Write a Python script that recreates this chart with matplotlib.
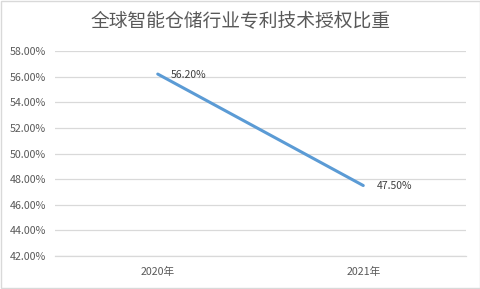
import matplotlib
matplotlib.use("Agg")
import matplotlib.pyplot as plt
from matplotlib.patches import Rectangle

plt.rcParams['font.family'] = ['Noto Sans CJK SC', 'DejaVu Sans']

# Data
title = "全球智能仓储行业专利技术授权比重"
years = ["2020年", "2021年"]
share = [56.20, 47.50]
y_ticks = [42, 44, 46, 48, 50, 52, 54, 56, 58]

text_color = "#595959"
grid_color = "#d9d9d9"
line_color = "#5b9bd5"

fig = plt.figure(figsize=(4.81, 2.89), dpi=100, facecolor="white")
ax = fig.add_axes([55 / 481, 1 - 256 / 289, 411 / 481, 205 / 289])

x = list(range(len(years)))
ax.plot(x, share, color=line_color, linewidth=2.2, solid_capstyle="round")

# Data labels
ax.annotate(f"{share[0]:.2f}%", (x[0], share[0]), xytext=(9.5, -0.5), textcoords="offset points",
            ha="left", va="center", fontsize=7.5, color="#404040")
ax.annotate(f"{share[1]:.2f}%", (x[1], share[1]), xytext=(9.5, -0.5), textcoords="offset points",
            ha="left", va="center", fontsize=7.5, color="#404040")

ax.set_xlim(-0.5, len(years) - 0.5)
ax.set_ylim(y_ticks[0], y_ticks[-1])
ax.set_yticks(y_ticks)
ax.set_yticklabels([f"{v:.2f}%" for v in y_ticks])
ax.set_xticks(x)
ax.set_xticklabels(years)
ax.yaxis.grid(True, color=grid_color, linewidth=0.9)
ax.set_axisbelow(True)
ax.tick_params(axis="both", length=0, labelsize=7.7, colors=text_color)
ax.tick_params(axis="y", pad=6.5)
ax.tick_params(axis="x", pad=8)

for side in ["top", "right", "left"]:
    ax.spines[side].set_visible(False)
ax.spines["bottom"].set_color(grid_color)
ax.spines["bottom"].set_linewidth(0.9)

fig.text(0.5, 1 - 22 / 289, title, ha="center", va="center", fontsize=13.5, color=text_color)

# Outer border
fig.patches.append(Rectangle((0.002, 0.003), 0.995, 0.993, transform=fig.transFigure,
                             fill=False, edgecolor="#d9d9d9", linewidth=1))

fig.savefig("out.png", dpi=100, facecolor="white")
